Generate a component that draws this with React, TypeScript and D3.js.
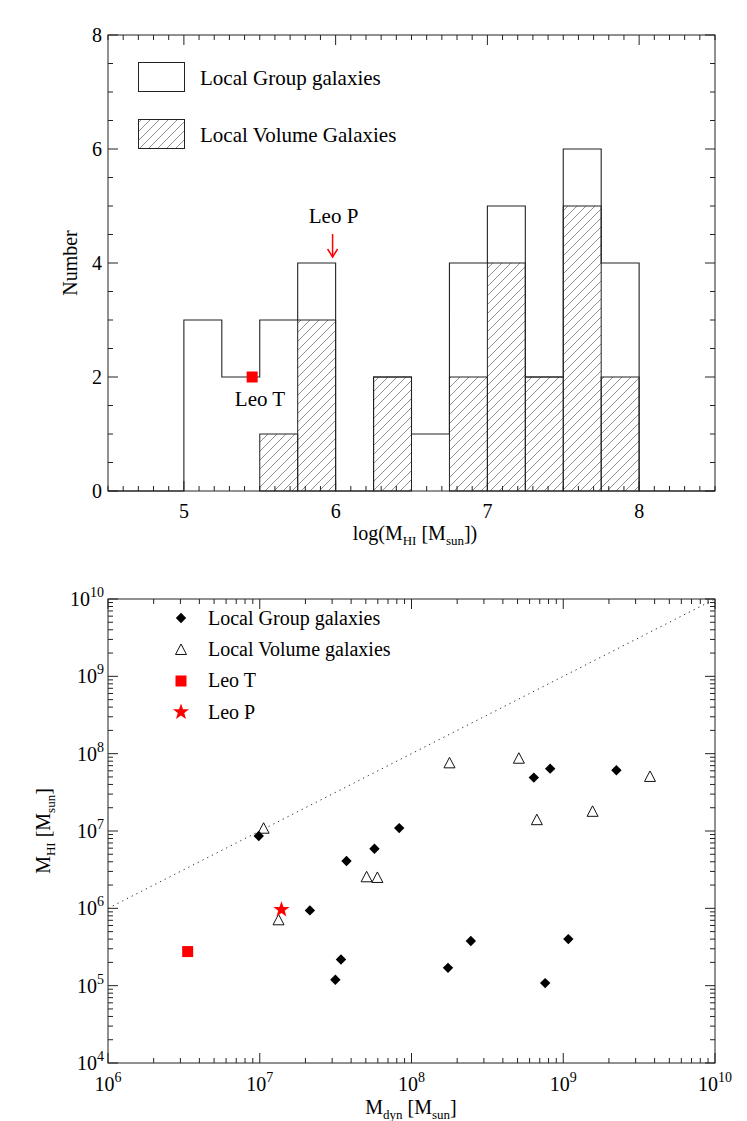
import React from "react";
import * as d3 from "d3";

// ---------- Histogram data ----------
const binStarts = [5.0, 5.25, 5.5, 5.75, 6.0, 6.25, 6.5, 6.75, 7.0, 7.25, 7.5, 7.75];
const binWidth = 0.25;
const lgCounts = [3, 2, 3, 4, 0, 2, 1, 4, 5, 2, 6, 4];
const lvCounts = [0, 0, 1, 3, 0, 2, 0, 2, 4, 2, 5, 2];
const histXTicks = [5, 6, 7, 8];
const histYTicks = [0, 2, 4, 6, 8];
const leoTHist = { x: 5.45, y: 2 };
const leoPHistX = 5.98;

// ---------- Scatter data ----------
const lgMdyn = [9.85e6, 3.73e7, 5.7e7, 8.3e7, 6.4e8, 8.2e8, 2.24e9, 2.14e7, 3.43e7, 3.15e7, 1.74e8, 2.46e8, 7.6e8, 1.08e9];
const lgMHI = [8.6e6, 4.1e6, 5.9e6, 1.09e7, 4.9e7, 6.4e7, 6.1e7, 9.4e5, 2.18e5, 1.19e5, 1.7e5, 3.78e5, 1.08e5, 4.0e5];
const lvMdyn = [1.06e7, 1.78e8, 5.1e8, 6.7e8, 1.56e9, 3.73e9, 5.06e7, 5.96e7, 1.33e7];
const lvMHI = [1.07e7, 7.5e7, 8.6e7, 1.38e7, 1.77e7, 5.0e7, 2.52e6, 2.47e6, 7.0e5];
const leoT = { mdyn: 3.35e6, mhi: 2.76e5 };
const leoP = { mdyn: 1.39e7, mhi: 9.6e5 };
const scatterXExps = [6, 7, 8, 9, 10];
const scatterYExps = [4, 5, 6, 7, 8, 9, 10];

const FONT = '"Liberation Serif", "Times New Roman", Times, "DejaVu Serif", serif';
const FS = 20;
const STROKE = "#222";

const L = 108, R = 715;

export default function App() {
  // top panel
  const hx = d3.scaleLinear().domain([4.5, 8.5]).range([L, R]);
  const hy = d3.scaleLinear().domain([0, 8]).range([491, 35]);
  // bottom panel
  const sx = d3.scaleLog().domain([1e6, 1e10]).range([L, R]);
  const sy = d3.scaleLog().domain([1e4, 1e10]).range([1063, 599]);

  // outline step path
  let p = `M${hx(4.5)},${hy(0)} H${hx(binStarts[0])}`;
  binStarts.forEach((b, i) => {
    p += ` V${hy(lgCounts[i])} H${hx(b + binWidth)}`;
  });
  p += ` V${hy(0)} H${hx(8.5)}`;

  const hxMinor = d3.range(45, 86).map((v) => v / 10).filter((v) => Math.abs(v - Math.round(v)) > 1e-6);
  const hyMinor = d3.range(0, 17).map((v) => v / 2).filter((v) => v % 2 !== 0);

  const sxMinor: number[] = [];
  for (let d = 6; d < 10; d++) for (let k = 2; k <= 9; k++) sxMinor.push(k * Math.pow(10, d));
  const syMinor: number[] = [];
  for (let d = 4; d < 10; d++) for (let k = 2; k <= 9; k++) syMinor.push(k * Math.pow(10, d));

  const major = 10, minor = 5;
  const ht = 35, hb = 491;
  const st = 599, sb = 1063;

  const diamond = (cx: number, cy: number, r = 5.2) => `M${cx},${cy - r} L${cx + r},${cy} L${cx},${cy + r} L${cx - r},${cy} Z`;
  const triangle = (cx: number, cy: number) => `M${cx},${cy - 6} L${cx + 5.5},${cy + 4.5} L${cx - 5.5},${cy + 4.5} Z`;
  const star = (cx: number, cy: number, ro = 8.5, ri = 3.4) => {
    const pts: string[] = [];
    for (let i = 0; i < 10; i++) {
      const r = i % 2 === 0 ? ro : ri;
      const a = -Math.PI / 2 + (i * Math.PI) / 5;
      pts.push(`${cx + r * Math.cos(a)},${cy + r * Math.sin(a)}`);
    }
    return `M${pts.join(" L")} Z`;
  };

  return (
    <svg width={747} height={1121} style={{ position: "absolute", left: 0, top: 0, background: "#fff", fontFamily: FONT }}>
      <defs>
        <pattern id="hatch" patternUnits="userSpaceOnUse" width={9} height={9}>
          <path d="M0,9 L9,0 M-2,2 L2,-2 M7,11 L11,7" stroke="#444" strokeWidth={0.6} />
        </pattern>
      </defs>
      <rect x={0} y={0} width={747} height={1121} fill="#fff" />

      {/* ================= TOP PANEL ================= */}
      {binStarts.map((b, i) =>
        lvCounts[i] > 0 ? (
          <rect key={"lv" + i} x={hx(b)} y={hy(lvCounts[i])} width={hx(b + binWidth) - hx(b)} height={hy(0) - hy(lvCounts[i])}
            fill="url(#hatch)" stroke={STROKE} strokeWidth={1} />
        ) : null
      )}
      <path d={p} fill="none" stroke={STROKE} strokeWidth={1.1} />

      {/* frame */}
      <rect x={L} y={ht} width={R - L} height={hb - ht} fill="none" stroke={STROKE} strokeWidth={1} />
      {histXTicks.map((t) => (
        <g key={"hxt" + t}>
          <line x1={hx(t)} x2={hx(t)} y1={hb} y2={hb - major} stroke={STROKE} />
          <line x1={hx(t)} x2={hx(t)} y1={ht} y2={ht + major} stroke={STROKE} />
          <text x={hx(t)} y={518} textAnchor="middle" fontSize={FS}>{t}</text>
        </g>
      ))}
      {hxMinor.map((t) => (
        <g key={"hxm" + t}>
          <line x1={hx(t)} x2={hx(t)} y1={hb} y2={hb - minor} stroke={STROKE} />
          <line x1={hx(t)} x2={hx(t)} y1={ht} y2={ht + minor} stroke={STROKE} />
        </g>
      ))}
      {histYTicks.map((t) => (
        <g key={"hyt" + t}>
          <line x1={L} x2={L + major} y1={hy(t)} y2={hy(t)} stroke={STROKE} />
          <line x1={R} x2={R - major} y1={hy(t)} y2={hy(t)} stroke={STROKE} />
          <text x={102} y={hy(t) + 7} textAnchor="end" fontSize={FS}>{t}</text>
        </g>
      ))}
      {hyMinor.map((t) => (
        <g key={"hym" + t}>
          <line x1={L} x2={L + minor} y1={hy(t)} y2={hy(t)} stroke={STROKE} />
          <line x1={R} x2={R - minor} y1={hy(t)} y2={hy(t)} stroke={STROKE} />
        </g>
      ))}
      <text x={415} y={540} textAnchor="middle" fontSize={FS}>
        log(M<tspan fontSize={13} dy={5}>HI</tspan><tspan dy={-5}> [M</tspan><tspan fontSize={13} dy={5}>sun</tspan><tspan dy={-5}>])</tspan>
      </text>
      <text transform={`translate(77,${(ht + hb) / 2}) rotate(-90)`} textAnchor="middle" fontSize={FS}>Number</text>

      {/* legend */}
      <rect x={138.5} y={62.5} width={46} height={29} fill="none" stroke={STROKE} />
      <text x={200} y={85} fontSize={21}>Local Group galaxies</text>
      <rect x={138.5} y={119.5} width={46} height={29} fill="url(#hatch)" stroke={STROKE} />
      <text x={200} y={142} fontSize={21}>Local Volume Galaxies</text>

      {/* Leo T / Leo P annotations */}
      <rect x={hx(leoTHist.x) - 5.5} y={hy(leoTHist.y) - 5.5} width={11} height={11} fill="#ff0000" />
      <text x={260} y={406} textAnchor="middle" fontSize={21}>Leo T</text>
      <text x={hx(leoPHistX) + 1} y={223} textAnchor="middle" fontSize={21}>Leo P</text>
      <g stroke="#ff0000" strokeWidth={1.5} fill="none">
        <line x1={hx(leoPHistX)} x2={hx(leoPHistX)} y1={234} y2={257} />
        <path d={`M${hx(leoPHistX) - 5},${249} L${hx(leoPHistX)},${257} L${hx(leoPHistX) + 5},${249}`} />
      </g>

      {/* ================= BOTTOM PANEL ================= */}
      <line x1={sx(1e6)} y1={sy(1e6)} x2={sx(1e10)} y2={sy(1e10)} stroke="#333" strokeWidth={1} strokeDasharray="1.3,4" />
      <rect x={L} y={st} width={R - L} height={sb - st} fill="none" stroke={STROKE} strokeWidth={1} />
      {scatterXExps.map((e) => {
        const v = Math.pow(10, e);
        return (
          <g key={"sxt" + e}>
            <line x1={sx(v)} x2={sx(v)} y1={sb} y2={sb - major} stroke={STROKE} />
            <line x1={sx(v)} x2={sx(v)} y1={st} y2={st + major} stroke={STROKE} />
            <text x={sx(v)} y={1091} textAnchor="middle" fontSize={FS}>
              10<tspan fontSize={14} dy={-9}>{e}</tspan>
            </text>
          </g>
        );
      })}
      {sxMinor.map((v, i) => (
        <g key={"sxm" + i}>
          <line x1={sx(v)} x2={sx(v)} y1={sb} y2={sb - minor} stroke={STROKE} />
          <line x1={sx(v)} x2={sx(v)} y1={st} y2={st + minor} stroke={STROKE} />
        </g>
      ))}
      {scatterYExps.map((e) => {
        const v = Math.pow(10, e);
        return (
          <g key={"syt" + e}>
            <line x1={L} x2={L + major} y1={sy(v)} y2={sy(v)} stroke={STROKE} />
            <line x1={R} x2={R - major} y1={sy(v)} y2={sy(v)} stroke={STROKE} />
            <text x={104} y={sy(v) + 7} textAnchor="end" fontSize={FS}>
              10<tspan fontSize={14} dy={-9}>{e}</tspan>
            </text>
          </g>
        );
      })}
      {syMinor.map((v, i) => (
        <g key={"sym" + i}>
          <line x1={L} x2={L + minor} y1={sy(v)} y2={sy(v)} stroke={STROKE} />
          <line x1={R} x2={R - minor} y1={sy(v)} y2={sy(v)} stroke={STROKE} />
        </g>
      ))}
      <text x={411} y={1114} textAnchor="middle" fontSize={FS}>
        M<tspan fontSize={13} dy={5}>dyn</tspan><tspan dy={-5}> [M</tspan><tspan fontSize={13} dy={5}>sun</tspan><tspan dy={-5}>]</tspan>
      </text>
      <text transform={`translate(50,${(st + sb) / 2}) rotate(-90)`} textAnchor="middle" fontSize={FS}>
        M<tspan fontSize={13} dy={5}>HI</tspan><tspan dy={-5}> [M</tspan><tspan fontSize={13} dy={5}>sun</tspan><tspan dy={-5}>]</tspan>
      </text>

      {/* points */}
      {lvMdyn.map((m, i) => (
        <path key={"lvp" + i} d={triangle(sx(m), sy(lvMHI[i]))} fill="#fff" stroke="#111" strokeWidth={1} />
      ))}
      {lgMdyn.map((m, i) => (
        <path key={"lgp" + i} d={diamond(sx(m), sy(lgMHI[i]))} fill="#000" />
      ))}
      <rect x={sx(leoT.mdyn) - 5.5} y={sy(leoT.mhi) - 5.5} width={11} height={11} fill="#ff0000" />
      <path d={star(sx(leoP.mdyn), sy(leoP.mhi))} fill="#ff0000" />

      {/* legend */}
      <path d={diamond(181, 618)} fill="#000" />
      <text x={208} y={625} fontSize={FS}>Local Group galaxies</text>
      <path d={triangle(181, 650)} fill="#fff" stroke="#111" />
      <text x={208} y={656} fontSize={FS}>Local Volume galaxies</text>
      <rect x={181 - 5.5} y={681 - 5.5} width={11} height={11} fill="#ff0000" />
      <text x={208} y={687} fontSize={FS}>Leo T</text>
      <path d={star(181, 712)} fill="#ff0000" />
      <text x={208} y={719} fontSize={FS}>Leo P</text>
    </svg>
  );
}
